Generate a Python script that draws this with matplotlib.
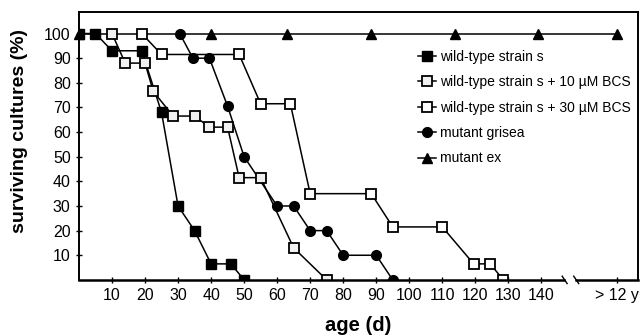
import matplotlib.pyplot as plt

plt.rcParams['font.family'] = ['Liberation Sans', 'DejaVu Sans']

# ages (d); 163 stands for the "> 12 y" position after the axis break
wt_x = [0, 5, 10, 19, 25, 30, 35, 40, 46, 50]
wt_y = [100, 100, 93, 93, 68, 30, 20, 6.5, 6.5, 0]

bcs10_x = [10, 14, 20, 22.5, 28.5, 35, 39.5, 45, 48.5, 55, 65, 75]
bcs10_y = [100, 88, 88, 76.5, 66.5, 66.5, 62, 62, 41.5, 41.5, 13, 0]

bcs30_x = [19, 25, 48.5, 55, 64, 70, 88.5, 95, 110, 119.5, 124.5, 128.5]
bcs30_y = [100, 91.5, 91.5, 71.5, 71.5, 35, 35, 21.5, 21.5, 6.5, 6.5, 0]

gri_x = [30.5, 34.5, 39.5, 45, 50, 60, 65, 70, 75, 80, 90, 95]
gri_y = [100, 90, 90, 70.5, 50, 30, 30, 20, 20, 10, 10, 0]

ex_x = [0, 40, 63, 88.5, 114, 139, 163]
ex_y = [100, 100, 100, 100, 100, 100, 100]

xticks = [10, 20, 30, 40, 50, 60, 70, 80, 90, 100, 110, 120, 130, 140, 163]
xticklabels = ['10', '20', '30', '40', '50', '60', '70', '80', '90', '100',
               '110', '120', '130', '140', '> 12 y']
yticks = [10, 20, 30, 40, 50, 60, 70, 80, 90, 100]

fig = plt.figure(figsize=(6.42, 3.36), dpi=100)
ax = fig.add_axes([0.123, 0.167, 0.871, 0.797])

ms = 6.5
ax.plot(wt_x, wt_y, '-s', color='black', mfc='black', ms=ms, lw=1.1,
        label='wild-type strain s', zorder=3)
ax.plot(bcs10_x, bcs10_y, '-s', color='black', mfc='#f0f0f0', mew=1.3, ms=ms, lw=1.1,
        label='wild-type strain s + 10 \u00b5M BCS', zorder=4)
ax.plot(bcs30_x, bcs30_y, '-s', color='black', mfc='white', mew=1.3, ms=ms, lw=1.1,
        label='wild-type strain s + 30 \u00b5M BCS', zorder=4)
ax.plot(gri_x, gri_y, '-o', color='black', mfc='black', ms=ms + 0.5, lw=1.1,
        label='mutant grisea', zorder=3)
ax.plot(ex_x, ex_y, '-^', color='black', mfc='black', ms=ms + 0.5, lw=1.1,
        label='mutant ex', zorder=2, clip_on=False)

ax.set_xlim(0, 169.3)
ax.set_ylim(0, 108.7)
ax.set_xticks(xticks)
ax.set_xticklabels(xticklabels)
ax.set_yticks(yticks)
ax.tick_params(direction='inout', length=4, width=1, labelsize=11.5, pad=4)

for s in ax.spines.values():
    s.set_linewidth(1.4)
ax.spines['bottom'].set_visible(False)

# bottom axis drawn in two pieces with a break
ax.plot([0, 147], [0, 0], color='black', lw=1.8, clip_on=False, zorder=5)
ax.plot([150.5, 169.3], [0, 0], color='black', lw=1.8, clip_on=False, zorder=5)
ax.plot([146.3, 147.8], [1.5, -1.5], color='black', lw=1, clip_on=False, zorder=5)
ax.plot([149.8, 151.3], [1.5, -1.5], color='black', lw=1, clip_on=False, zorder=5)

ax.set_xlabel('age (d)', fontsize=14.5, fontweight='bold', labelpad=9)
ax.set_ylabel('surviving cultures (%)', fontsize=14, fontweight='bold')
ax.yaxis.set_label_coords(-0.091, 0.556)

ax.legend(loc='upper right', bbox_to_anchor=(1.0, 0.885), frameon=False, fontsize=10,
          handlelength=1.3, handletextpad=0.3, labelspacing=0.82, borderaxespad=0.1)

plt.savefig('out.png', dpi=100)
